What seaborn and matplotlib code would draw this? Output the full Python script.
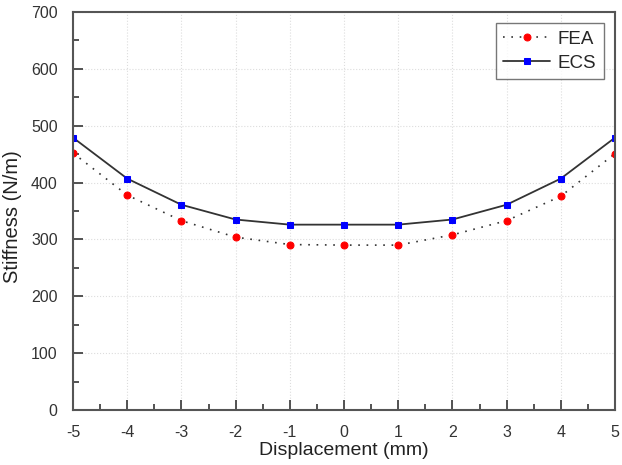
import numpy as np
import pandas as pd
import matplotlib
matplotlib.use("Agg")
import matplotlib.pyplot as plt
import seaborn as sns
from matplotlib.ticker import MultipleLocator

displacement = [-5, -4, -3, -2, -1, 0, 1, 2, 3, 4, 5]
fea = [452, 378, 333, 304, 291, 290, 290, 308, 333, 376, 451]
ecs = [479, 407, 361, 335, 326, 326, 326, 335, 361, 407, 479]

sns.set_style("ticks")
plt.rcParams['font.family'] = ['Liberation Sans', 'DejaVu Sans']
plt.rcParams['axes.unicode_minus'] = False

df = pd.DataFrame({"Displacement": displacement, "FEA": fea, "ECS": ecs})

fig = plt.figure(figsize=(6.22, 4.65), dpi=100)
ax = fig.add_axes([73/622, 1 - 410/465, 542/622, 398/465])

sns.lineplot(data=df, x="Displacement", y="FEA", ax=ax, color="#333333",
             linestyle=(0, (1, 4)), linewidth=1.2, marker="o", markersize=5,
             markerfacecolor="red", markeredgecolor="red", label="FEA")
sns.lineplot(data=df, x="Displacement", y="ECS", ax=ax, color="#333333",
             linestyle="-", linewidth=1.3, marker="s", markersize=4.5,
             markerfacecolor="blue", markeredgecolor="blue", label="ECS")

ax.set_xlim(-5, 5)
ax.set_ylim(0, 700)
ax.xaxis.set_major_locator(MultipleLocator(1))
ax.xaxis.set_minor_locator(MultipleLocator(0.5))
ax.yaxis.set_major_locator(MultipleLocator(100))
ax.yaxis.set_minor_locator(MultipleLocator(50))
ax.tick_params(which="both", direction="in", colors="#444444", labelcolor="#333333",
               width=1.3, top=False, right=False)
ax.tick_params(which="major", length=7, labelsize=11.5, pad=11)
ax.tick_params(which="minor", length=4)
ax.grid(True, which="major", color="#dddddd", linestyle=":", linewidth=0.8)
for s in ax.spines.values():
    s.set_color("#555555")
    s.set_linewidth(1.5)

ax.set_xlabel("Displacement (mm)", fontsize=14, color="#222222", labelpad=1)
ax.set_ylabel("Stiffness (N/m)", fontsize=14.5, color="#222222")
ax.yaxis.set_label_coords(-51/542, 0.485)

leg = ax.legend(loc="upper right", fontsize=13.5, frameon=True, fancybox=False,
                edgecolor="#555555", handlelength=2.5, borderaxespad=0.6,
                handletextpad=0.4, labelspacing=0.35, borderpad=0.4)
leg.get_frame().set_linewidth(1.0)

fig.savefig("out.png", dpi=100)
